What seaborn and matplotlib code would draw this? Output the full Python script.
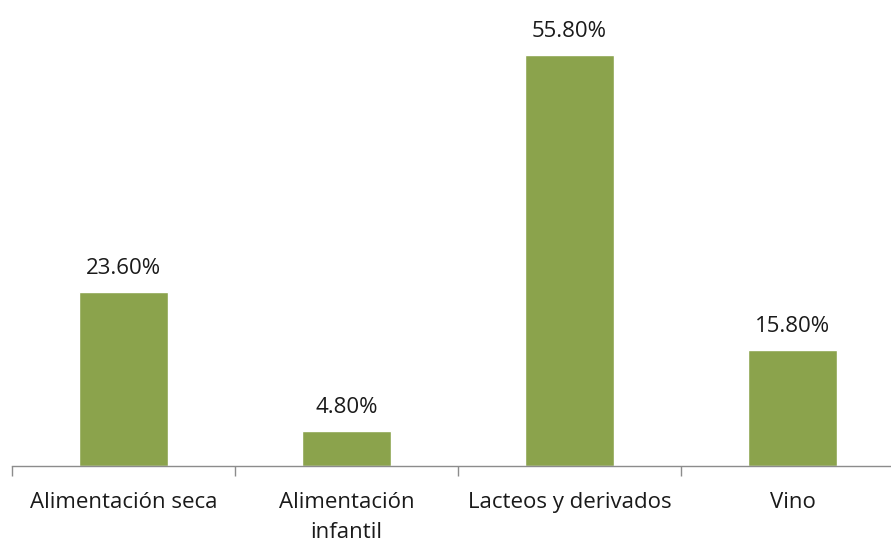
import matplotlib
matplotlib.use("Agg")
import matplotlib.pyplot as plt
import seaborn as sns
import pandas as pd

categories = ["Alimentación seca", "Alimentación\ninfantil", "Lacteos y derivados", "Vino"]
values = [23.6, 4.8, 55.8, 15.8]
labels = ["23.60%", "4.80%", "55.80%", "15.80%"]

sns.set_style("white")
plt.rcParams['font.family'] = ['Open Sans', 'DejaVu Sans']

df = pd.DataFrame({"cat": categories, "val": values})

fig = plt.figure(figsize=(8.91, 5.43), dpi=100)
# axes runs a bit past the right edge, like the original crop
ax = fig.add_axes([12 / 891, 1 - 466 / 543, 892 / 891, 466 / 543])
sns.barplot(data=df, x="cat", y="val", color="#8BA34C", width=0.4, ax=ax,
            saturation=1)

for i, (v, lab) in enumerate(zip(values, labels)):
    ax.annotate(lab, (i, v), xytext=(0, 13), textcoords="offset points",
                ha="center", va="baseline", fontsize=16, color="#1a1a1a")

ax.set_ylim(0, 63.3)
ax.set_xlim(-0.5, 3.5)
for s in ["top", "right", "left"]:
    ax.spines[s].set_visible(False)
ax.spines["bottom"].set_color("#8c8c8c")
ax.spines["bottom"].set_linewidth(1.0)
ax.set_yticks([])
ax.set_xlabel("")
ax.set_ylabel("")
ax.tick_params(axis="x", which="major", bottom=False, length=0, labelsize=16,
               pad=19, labelcolor="#1a1a1a")
ax.set_xticks([-0.5, 0.5, 1.5, 2.5, 3.5], minor=True)
ax.tick_params(axis="x", which="minor", bottom=True, length=7, width=1,
               color="#8c8c8c", direction="out")
for t in ax.get_xticklabels():
    t.set_linespacing(1.55)

fig.savefig("out.png", dpi=100)
